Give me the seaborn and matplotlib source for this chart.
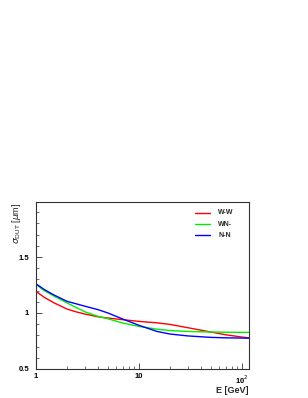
import numpy as np
import pandas as pd
import seaborn as sns
import matplotlib
matplotlib.use("Agg")
import matplotlib.pyplot as plt
from matplotlib.ticker import FixedLocator, NullFormatter, MultipleLocator

# values
energy = [1, 1.2, 1.5, 2, 2.5, 3, 4, 5, 7, 10, 15, 20, 30, 50, 70, 100, 117]
sigma_ww = [1.193, 1.14, 1.09, 1.035, 1.008, 0.99, 0.966, 0.955, 0.94, 0.925, 0.912, 0.898, 0.868, 0.83, 0.805, 0.785, 0.778]
sigma_wn = [1.255, 1.2, 1.15, 1.09, 1.045, 1.01, 0.97, 0.948, 0.91, 0.88, 0.855, 0.843, 0.835, 0.83, 0.828, 0.827, 0.827]
sigma_nn = [1.26, 1.21, 1.16, 1.104, 1.08, 1.06, 1.03, 1.0, 0.945, 0.89, 0.835, 0.812, 0.795, 0.782, 0.778, 0.776, 0.775]
labels = ["W-W", "WN-", "N-N"]
colors = ["#ff0000", "#00ee00", "#0000ff"]

df = pd.DataFrame({"E": energy * 3,
                   "sigma": sigma_ww + sigma_wn + sigma_nn,
                   "config": sum([[l] * len(energy) for l in labels], [])})

sns.set_style("ticks")
plt.rcParams["font.family"] = ["Liberation Sans", "DejaVu Sans"]

fig = plt.figure(figsize=(3.08, 3.98), dpi=100)
ax = fig.add_axes([0.117, 0.073, 0.691, 0.419])

sns.lineplot(data=df, x="E", y="sigma", hue="config", palette=colors,
             linewidth=1.0, ax=ax, legend=False)

ax.set_xscale("log")
ax.set_xlim(1, 117)
ax.set_ylim(0.5, 1.99)

ax.xaxis.set_major_locator(FixedLocator([1, 10, 100]))
ax.set_xticklabels(["1", "10", r"10$^{2}$"])
ax.xaxis.set_minor_locator(FixedLocator([2, 3, 4, 5, 6, 7, 8, 9, 20, 30, 40, 50, 60, 70, 80, 90]))
ax.xaxis.set_minor_formatter(NullFormatter())
ax.yaxis.set_major_locator(FixedLocator([0.5, 1.0, 1.5]))
ax.set_yticklabels(["0.5", "1", "1.5"])
ax.yaxis.set_minor_locator(MultipleLocator(0.1))

ax.tick_params(axis="both", which="both", direction="in", labelsize=5.5, colors="#333333")
ax.tick_params(which="major", length=4, width=0.6)
ax.tick_params(which="minor", length=2, width=0.5)
for lab in ax.get_xticklabels() + ax.get_yticklabels():
    lab.set_fontweight("bold")
    lab.set_color("black")
ax.tick_params(axis="x", pad=3)
ax.tick_params(axis="y", pad=5)

for sp in ax.spines.values():
    sp.set_visible(True)
    sp.set_color("#333333")
    sp.set_linewidth(0.8)

ax.set_xlabel("E [GeV]", fontsize=6.5, fontweight="bold", loc="right", labelpad=0)
ax.set_ylabel(r"$\sigma_{\rm DUT}$ [$\mu$m]", fontsize=6.5, loc="top")
ax.yaxis.set_label_coords(-0.06, 1.0)

# legend
for i, (lab, c) in enumerate(zip(labels, colors)):
    yy = 0.936 - i * 0.067
    ax.plot([0.746, 0.817], [yy, yy], color=c, lw=1.0, transform=ax.transAxes)
    ax.text(0.855, yy, lab, fontsize=5, fontweight="bold", va="center", transform=ax.transAxes)

fig.savefig("out.png", dpi=100)
